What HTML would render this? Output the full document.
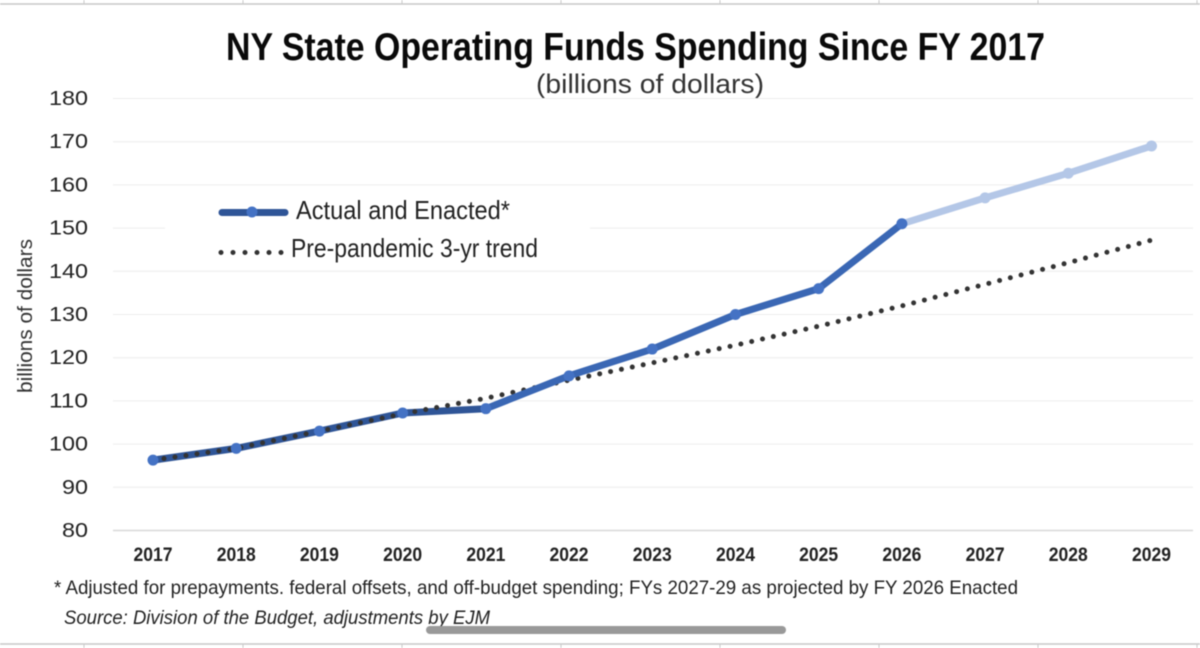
<!DOCTYPE html>
<html lang="en">
<head>
<meta charset="utf-8">
<title>NY State Operating Funds Spending Since FY 2017</title>
<style>
html,body{margin:0;padding:0;background:#fff;}
body{width:1200px;height:648px;overflow:hidden;position:relative;}
svg{display:block;filter:blur(0.5px);}
text{font-family:"Liberation Sans",sans-serif;fill:#222;}
.narrow{font-family:"Liberation Sans Narrow","Liberation Sans",sans-serif;}
</style>
</head>
<body>
<svg id="chart" xmlns="http://www.w3.org/2000/svg" width="1200" height="648" viewBox="0 0 1200 648">
  <g id="sheet-frame"></g>
  <text class="narrow" x="226" y="60" font-size="39" font-weight="700" textLength="819" lengthAdjust="spacingAndGlyphs" style="fill:#0a0a0a">NY State Operating Funds Spending Since FY 2017</text>
  <text class="narrow" x="536" y="93" font-size="27" textLength="228" lengthAdjust="spacingAndGlyphs" style="fill:#333">(billions of dollars)</text>
  <g id="grid"></g>
  <g id="y-axis"></g>
  <g id="x-axis"></g>
  <text class="narrow" transform="translate(32,393) rotate(-90)" font-size="20" textLength="154" lengthAdjust="spacingAndGlyphs" style="fill:#333">billions of dollars</text>
  <g id="series"></g>
  <g>
    <rect x="165" y="190" width="425" height="72" fill="#fff"></rect>
    <line x1="222" y1="212.5" x2="285" y2="212.5" stroke="#2f5597" stroke-width="7" stroke-linecap="round"></line>
    <circle cx="252" cy="212" r="5.5" fill="#4472c4"></circle>
    <text class="narrow" x="296" y="219" font-size="26" textLength="214" lengthAdjust="spacingAndGlyphs">Actual and Enacted*</text>
    <line x1="221" y1="252.5" x2="282" y2="252.5" stroke="#333" stroke-width="5" stroke-linecap="round" stroke-dasharray="0 12"></line>
    <text class="narrow" x="291" y="257" font-size="26" textLength="247" lengthAdjust="spacingAndGlyphs">Pre-pandemic 3-yr trend</text>
  </g>
  <text class="narrow" x="54" y="594" font-size="19.5" textLength="964" lengthAdjust="spacingAndGlyphs">* Adjusted for prepayments. federal offsets, and off-budget spending; FYs 2027-29 as projected by FY 2026 Enacted</text>
  <text class="narrow" x="64" y="624" font-size="19" font-style="italic" textLength="426" lengthAdjust="spacingAndGlyphs">Source: Division of the Budget, adjustments by EJM</text>
  <rect x="426" y="626" width="360" height="8" rx="4" fill="#999"></rect>
</svg>
<script>
const years = [2017,2018,2019,2020,2021,2022,2023,2024,2025,2026,2027,2028,2029];
const actualValues = [96.3,99,103,107.2,108.2,115.8,122,130,136,151];
const projectedValues = [151,157,162.7,169];
const trendValues = [96.3,99,103,107,110.6,114.8,118.8,122.9,127.3,132,137,142,147.2];
const yTicks = [80,90,100,110,120,130,140,150,160,170,180];

const NS = 'http://www.w3.org/2000/svg';
const xScale = i => 153 + i * (1151.5 - 153) / (years.length - 1);
const yScale = v => 530.5 - (v - 80) * 4.32;

function make(tag, attrs, parent) {
  const el = document.createElementNS(NS, tag);
  for (const k in attrs) el.setAttribute(k, attrs[k]);
  parent.appendChild(el);
  return el;
}
function polyPoints(vals, offset) {
  return vals.map((v, i) => xScale(i + offset).toFixed(1) + ',' + yScale(v).toFixed(1)).join(' ');
}

const frame = document.getElementById('sheet-frame');
[4, 644].forEach(y => {
  const rule = make('line', {x1:0, x2:1200, y1:y, y2:y, stroke:'#c8c8c8', 'stroke-width':1.5}, frame);
  
  
});
[84,243,402,561,720,879,1038,1197].forEach(x => {
  [[0,4],[644,648]].forEach(seg => {
    const tick = make('line', {x1:x, x2:x, y1:seg[0], y2:seg[1], stroke:'#c8c8c8', 'stroke-width':1}, frame);
    
    
  });
});

const grid = document.getElementById('grid');
const yAxis = document.getElementById('y-axis');
yTicks.forEach(t => {
  const y = yScale(t);
  const line = make('line', {x1:113, x2:1193, y1:y, y2:y, stroke: t === 80 ? '#d8d8d8' : '#ececec', 'stroke-width': t === 80 ? 1.4 : 1}, grid);
  
  
  const label = make('text', {x:49, y:y + 6.5, 'font-size':20.5, textLength: t === 80 || t === 90 ? 26 : 39, lengthAdjust:'spacingAndGlyphs'}, yAxis);
  if (t < 100) label.setAttribute('x', 62);
  label.textContent = t;
  
  
});

const xAxis = document.getElementById('x-axis');
years.forEach((yr, i) => {
  const label = make('text', {class:'narrow', x:xScale(i), y:561, 'font-size':19, 'font-weight':700, 'text-anchor':'middle', textLength:39, lengthAdjust:'spacingAndGlyphs'}, xAxis);
  label.textContent = yr;
  
  
});

const series = document.getElementById('series');
const splitAt = 4;

const early = make('polyline', {points:polyPoints(actualValues.slice(0, splitAt + 1), 0), fill:'none', stroke:'#2f5597', 'stroke-width':7, 'stroke-linejoin':'round', 'stroke-linecap':'round'}, series);



const trend = make('polyline', {points:polyPoints(trendValues, 0), fill:'none', stroke:'#333', 'stroke-width':5, 'stroke-linecap':'round', 'stroke-linejoin':'round', 'stroke-dasharray':'0 11.1'}, series);



const proj = make('polyline', {points:polyPoints(projectedValues, actualValues.length - 1), fill:'none', stroke:'#b4c7e7', 'stroke-width':7, 'stroke-linejoin':'round'}, series);



const late = make('polyline', {points:polyPoints(actualValues.slice(splitAt), splitAt), fill:'none', stroke:'#3a67b4', 'stroke-width':7, 'stroke-linejoin':'round', 'stroke-linecap':'round'}, series);



projectedValues.slice(1).forEach((v, i) => {
  const dot = make('circle', {cx:xScale(i + actualValues.length), cy:yScale(v), r:5.5, fill:'#b4c7e7'}, series);
  
  
});
actualValues.forEach((v, i) => {
  const dot = make('circle', {cx:xScale(i), cy:yScale(v), r:5.5, fill:'#4472c4'}, series);
  
  
});
</script>
</body>
</html>
